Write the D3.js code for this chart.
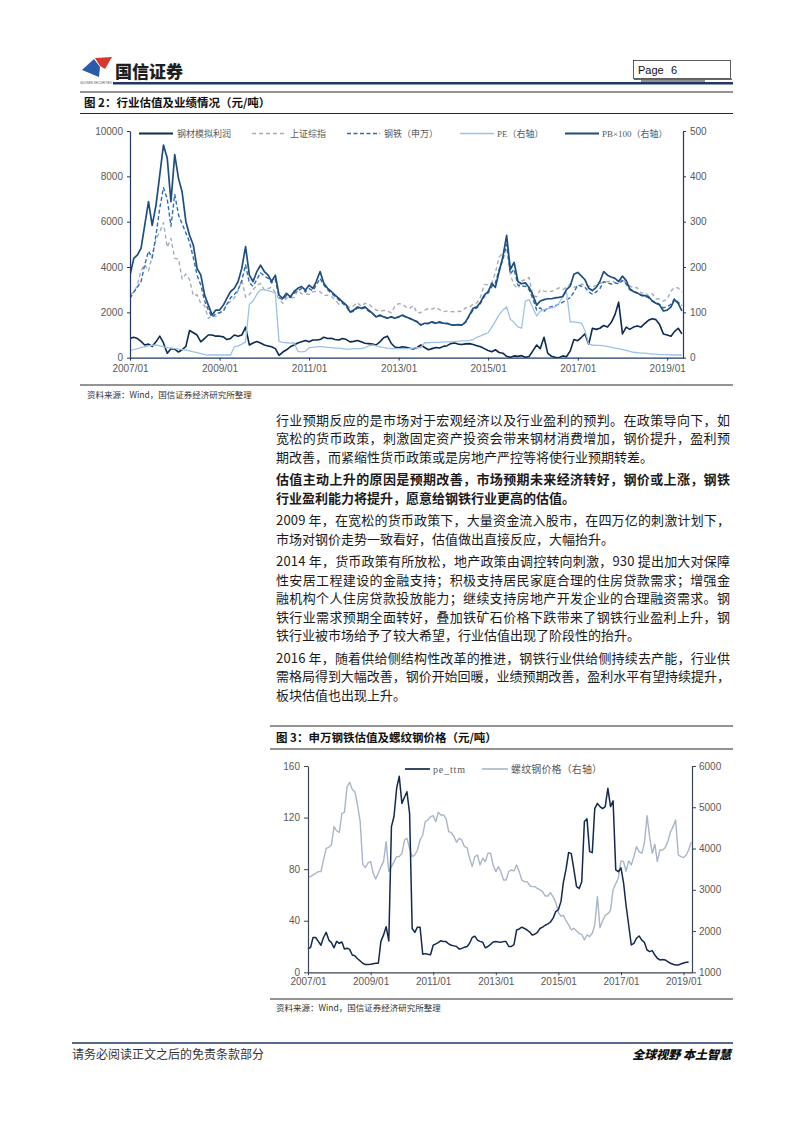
<!DOCTYPE html>
<html>
<head>
<meta charset="utf-8">
<script src="https://d3js.org/d3.v7.min.js"></script>
<style>
  body { margin: 0; background: #fff; }
  svg { display: block; }
</style>
</head>
<body>
<svg id="page" width="793" height="1122"></svg>
<script>
// ---------- Figure 2 data (monthly, from 2007/01) ----------
// 钢材模拟利润 (left axis, 元/吨)
const steelProfit = [
  850, 900, 850, 720, 560, 600, 500, 700, 950, 650, 200, 400,
  380, 250, 350, 500, 1200, 1100, 1000, 700, 850, 1000, 1000, 950,
  950, 920, 800, 850, 1000, 950, 1000, 1350, 560, 650, 710, 650,
  560, 520, 480, 400, 100, 250, 350, 480, 560, 650, 700, 760,
  700, 780, 780, 800, 900, 850, 860, 800, 780, 850, 800, 700,
  720, 760, 700, 640, 620, 600, 560, 700, 880, 950, 640, 470,
  440, 480, 460, 420, 380, 450, 560, 450, 350, 400, 450, 430,
  500, 530, 620, 650, 600, 580, 610, 620, 580, 530, 480, 400,
  320, 260, 350, 230, 200, 60, 20, 80, 60, 90, 20, 50,
  300, 560, 400, 900, 200, 60, 20, 0, 80, 40, 300, 800,
  750, 900, 1050, 600, 1300, 1250, 1300, 1420, 1350, 1550, 1900, 2450,
  1050, 1350, 1250, 1350, 1400, 1350, 1500, 1650, 1720, 1680, 1450, 1050,
  1000, 950, 1150, 1300, 1050
];
// 上证综指 (left axis)
const sseIndex = [
  2786, 2881, 3183, 3841, 4109, 3820, 4471, 5218, 5552, 5955, 4871, 5262,
  4383, 4348, 3473, 3693, 3433, 2736, 2775, 2397, 2293, 1729, 1871, 1821,
  1991, 2082, 2373, 2477, 2633, 2959, 3412, 2667, 2779, 2996, 3195, 3277,
  2989, 3051, 3110, 2870, 2592, 2398, 2638, 2639, 2656, 2979, 2820, 2808,
  2791, 2905, 2928, 2911, 2743, 2762, 2701, 2567, 2359, 2468, 2333, 2199,
  2292, 2428, 2263, 2396, 2373, 2225, 2103, 2047, 2086, 2069, 1980, 2269,
  2385, 2366, 2237, 2177, 2300, 1979, 1994, 2098, 2175, 2141, 2220, 2116,
  2033, 2056, 2033, 2026, 2039, 2048, 2202, 2217, 2364, 2420, 2683, 3235,
  3210, 3310, 3748, 4442, 4612, 5000, 3664, 3206, 3053, 3383, 3445, 3539,
  2738, 2688, 3004, 2938, 2917, 2930, 2979, 3085, 3005, 3100, 3250, 3104,
  3159, 3242, 3223, 3155, 3117, 3192, 3273, 3361, 3349, 3393, 3317, 3307,
  3481, 3259, 3169, 3082, 3095, 2847, 2876, 2725, 2821, 2603, 2588, 2494,
  2585, 2941, 3091, 3078, 2899
];
// 钢铁（申万） (left axis)
const swSteel = [
  2620, 2900, 3100, 3350, 4100, 4700, 4400, 5400, 6600, 7500, 7000, 5800,
  7200, 6300, 5900, 5500, 5100, 4400, 3650, 3200, 2500, 2100, 1780, 1950,
  1980, 2050, 2350, 2650, 2780, 3000, 3400, 4100, 3300, 3150, 3450, 3750,
  3600, 3500, 3300, 3450, 2650, 2550, 2750, 2650, 2850, 2950, 3050, 2900,
  3050, 2950, 3200, 3500, 3200, 3000, 2850, 2700, 2550, 2400, 2250, 2000,
  2050, 2200, 2150, 2200, 2050, 1950, 1800, 1850, 1800, 1750, 1800, 1750,
  1800, 1850, 1800, 1720, 1650, 1600, 1450, 1500, 1500, 1550, 1520, 1550,
  1500, 1500, 1450, 1430, 1450, 1430, 1550, 1850, 2100, 2200, 2400, 2700,
  2850, 3150, 3300, 3900, 4300, 5000, 3700, 3900, 3200, 3150, 3150, 3000,
  2600, 2100, 2200, 2050, 2200, 2250, 2300, 2350, 2450, 2550, 2650, 2900,
  3200, 3150, 3100, 2900, 2800, 2900, 3050, 3350, 3300, 3250, 3300, 3250,
  3400, 3250, 3000, 2900, 2850, 2750, 2700, 2650, 2500, 2450, 2350, 2200,
  2250, 2350, 2600, 2450, 2300
];
// PE（右轴）
const sectorPE = [
  16, 18, 20, 22, 24, 26, 27, 28, 26, 24, 22, 21,
  20, 19, 18, 17, 15, 13, 11, 9, 7, 6, 6, 6,
  6, 6, 6, 6, 24, 26, 30, 35, 118, 125, 140, 150,
  150, 148, 146, 142, 36, 34, 33, 32, 33, 14, 13, 14,
  22, 23, 24, 25, 24, 23, 22, 21, 21, 20, 19, 19,
  20, 20, 20, 22, 26, 28, 26, 24, 22, 21, 20, 20,
  20, 20, 20, 20, 21, 22, 22, 33, 33, 34, 34, 34,
  35, 35, 35, 36, 36, 37, 37, 38, 40, 45, 48, 52,
  55, 68, 80, 95, 105, 112, 85, 78, 68, 65, 125, 128,
  110, 92, 102, 106, 108, 110, 112, 120, 135, 145, 79, 79,
  78, 76, 60, 30, 28, 27, 27, 26, 25, 23, 21, 20,
  18, 16, 14, 12, 11, 10, 10, 9, 8, 8, 7, 7,
  7, 6, 6, 6, 6
];
// PB×100（右轴）
const sectorPB100 = [
  182, 219, 226, 241, 292, 344, 292, 336, 403, 469, 440, 344,
  448, 395, 366, 300, 270, 248, 197, 182, 138, 116, 94, 105,
  105, 116, 131, 146, 153, 168, 197, 245, 182, 168, 190, 204,
  190, 182, 168, 182, 138, 131, 142, 134, 146, 153, 157, 149,
  160, 153, 168, 190, 164, 153, 146, 138, 131, 123, 116, 101,
  105, 112, 109, 112, 105, 98, 90, 94, 90, 87, 90, 87,
  90, 94, 90, 87, 83, 79, 72, 76, 76, 79, 76, 79,
  76, 76, 73, 72, 73, 72, 79, 94, 109, 112, 123, 138,
  146, 164, 155, 190, 222, 270, 195, 210, 168, 163, 165, 155,
  138, 116, 125, 128, 130, 130, 132, 133, 135, 150, 158, 184,
  188, 180, 172, 153, 148, 155, 168, 190, 182, 178, 175, 168,
  180, 170, 152, 146, 143, 138, 137, 135, 125, 120, 116, 103,
  105, 112, 128, 120, 103
];
const fig2LeftTicks = [0, 2000, 4000, 6000, 8000, 10000];
const fig2RightTicks = [0, 100, 200, 300, 400, 500];
const fig2Legend = ["钢材模拟利润", "上证综指", "钢铁（申万）", "PE（右轴）", "PB×100（右轴）"];

// ---------- Figure 3 data (monthly, from 2007/01) ----------
const peTtm = [
  18, 19.5, 27, 27, 24, 21, 27, 31, 25, 23, 19, 24,
  22.5, 23.5, 18, 18.6, 17.8, 13.4, 12.8, 10.5, 8.8, 7, 6, 6,
  6.2, 6.7, 7, 7, 24, 29, 35.4, 24.3, 113, 121, 143, 152,
  131, 136, 140, 123, 34, 31, 35, 35, 14, 14.5, 14, 13.6,
  21, 22, 23, 24.5, 23.8, 23.8, 22, 21, 20.5, 20, 18, 18.5,
  19.5, 20, 22.5, 27, 28, 25, 24, 23.3, 19, 20, 21.7, 23.5,
  23.8, 23.5, 23.3, 23.8, 23.8, 20, 20, 21.5, 32.8, 33.6, 35, 34,
  32.8, 31.2, 29, 29.5, 31, 34, 35, 36.5, 37.5, 39, 42, 47,
  48.5, 55, 70, 80, 93, 92, 80, 66.4, 65, 70.3, 117, 119,
  93.6, 92.8, 127, 131, 128.5, 127, 128.5, 142.7, 128.5, 133, 79.4, 78,
  81, 69, 52, 36.7, 21.2, 22.5, 26.4, 28.2, 25, 23.3, 17.3, 16,
  16.8, 13.4, 10.9, 9.6, 10, 9.6, 8.3, 7, 6.2, 5.7, 5.7, 6.5,
  7.2, 7.8, 7.8
];
// 螺纹钢价格（右轴）
const rebarPrice = [
  3318, 3318, 3360, 3400, 3440, 3440, 3720, 4005, 4030, 4086, 4530, 4430,
  4390, 4853, 4877, 5500, 5604, 5430, 5378, 5055, 4651, 3617, 3536, 3650,
  3682, 3399, 3262, 3399, 3561, 3682, 4167, 3440, 3561, 3682, 3803, 3803,
  3884, 4207, 4247, 4005, 3803, 3843, 3965, 4207, 4328, 4651, 4692, 4772,
  4797, 4651, 4877, 4813, 4813, 4716, 4409, 4385, 4288, 4150, 4247, 4207,
  4045, 4021, 3763, 3561, 3803, 3843, 3601, 3763, 3682, 3884, 3884, 3601,
  3440, 3561, 3440, 3238, 3238, 3440, 3480, 3456, 3601, 3440, 3238, 3197,
  3197, 3100, 3076, 3076, 3036, 3000, 2950, 2850, 2850, 2930, 2830, 2700,
  2450, 2360, 2380, 2250, 2150, 2026, 2066, 2002, 1945, 1921, 1784, 1905,
  1864, 1945, 2147, 2834, 2080, 2250, 2380, 2420, 2500, 3000, 3150, 3280,
  3700, 3682, 3450, 3700, 3601, 3803, 4045, 3924, 3884, 4126, 4797, 4288,
  3884, 4102, 3682, 3965, 3965, 4021, 4167, 4393, 4530, 4692, 3843, 3803,
  3779, 3843, 3965, 4150
];
const fig3LeftTicks = [0, 40, 80, 120, 160];
const fig3RightTicks = [1000, 2000, 3000, 4000, 5000, 6000];
const fig3Legend = ["pe_ttm", "螺纹钢价格（右轴）"];

const xTickYears = [2007, 2009, 2011, 2013, 2015, 2017, 2019];

// ---------- fonts & colours ----------
const CJK = '"Noto Sans CJK SC", "Noto Sans", sans-serif';
const ARIAL = '"Liberation Sans", Arial, sans-serif';
const SERIF = '"Liberation Serif", "Noto Sans CJK SC", serif';
const NAVY = "#1f3864";
const LABEL = "#595959";
const plain = d3.format("d");

const svg = d3.select("#page");
svg.append("rect").attr("width", 793).attr("height", 1122).attr("fill", "#fff");

function hline(x1, x2, y, color, w) {
  return svg.append("line").attr("x1", x1).attr("x2", x2).attr("y1", y).attr("y2", y)
    .attr("stroke", color).attr("stroke-width", w);
}

function label(x, y, str, opt) {
  const o = Object.assign({ size: 12, weight: 400, color: "#222", family: CJK, anchor: "start" }, opt);
  const t = svg.append("text").attr("x", x).attr("y", y).text(str)
    .attr("font-family", o.family).attr("font-size", o.size).attr("font-weight", o.weight)
    .attr("fill", o.color).attr("text-anchor", o.anchor);
  if (o.italic) t.attr("font-style", "italic");
  if (o.length) t.attr("textLength", o.length).attr("lengthAdjust", "spacing");
  return t;
}

// ---------- header ----------
svg.append("polygon").attr("points", "95,58 112,57 105,69 100,66").attr("fill", "#d63a2f");
svg.append("polygon").attr("points", "82,70 94,59 100,67 99,77").attr("fill", "#2a5aa8");
label(80, 84, "GUOSEN SECURITIES", { size: 3, family: ARIAL, color: "#555" });
label(115, 78, "国信证券", { size: 17, weight: 900, color: "#1e1e1e" });
svg.append("rect").attr("x", 633.5).attr("y", 60.5).attr("width", 97).attr("height", 18)
  .attr("fill", "none").attr("stroke", "#333").attr("stroke-width", 0.8);
hline(634, 732, 79.3, "#666", 1.4);
label(638, 73.5, "Page", { size: 11, family: ARIAL, color: "#111" });
label(671, 73.5, "6", { size: 11, family: ARIAL, color: "#111" });
hline(641, 705, 81, "#222", 1);
hline(113, 733, 83.3, NAVY, 2.4);

// ---------- figure 2 ----------
hline(80, 733, 92, "#111", 0.9);
label(84, 107, "图 2：行业估值及业绩情况（元/吨）", { size: 11.5, weight: 700, color: "#111" });
hline(80, 733, 113.5, "#111", 0.9);

const months2 = d3.range(steelProfit.length).map(i => new Date(2007, i, 1));
const x2 = d3.scaleTime().domain([new Date(2007, 0, 1), new Date(2019, 4, 10)]).range([130, 683]);
const yL2 = d3.scaleLinear().domain([0, 10000]).range([357.7, 131]);
const yR2 = d3.scaleLinear().domain([0, 500]).range([357.7, 131]);

svg.append("clipPath").attr("id", "clip2").append("rect")
  .attr("x", 130).attr("y", 125).attr("width", 553).attr("height", 233);

const plot2 = svg.append("g").attr("clip-path", "url(#clip2)");
const fig2Series = [
  { values: steelProfit, y: yL2, color: "#0d2a52", width: 1.6, dash: null },
  { values: sseIndex, y: yL2, color: "#a3aebd", width: 1.4, dash: "4,3" },
  { values: swSteel, y: yL2, color: "#2f6db3", width: 1.4, dash: "4,2.5" },
  { values: sectorPE, y: yR2, color: "#9cc2e6", width: 1.3, dash: null },
  { values: sectorPB100, y: yR2, color: "#1f4e7d", width: 1.7, dash: null }
];
fig2Series.forEach(s => {
  const line = d3.line().x((d, i) => x2(months2[i])).y(d => s.y(d));
  plot2.append("path").datum(s.values).attr("d", line)
    .attr("fill", "none").attr("stroke", s.color).attr("stroke-width", s.width)
    .attr("stroke-linejoin", "round").attr("stroke-dasharray", s.dash);
});

function styleAxis(g, color, size, family) {
  g.select(".domain").attr("stroke", color).attr("stroke-width", 1.2);
  g.selectAll(".tick line").attr("stroke", color).attr("stroke-width", 1);
  g.selectAll(".tick text").attr("fill", LABEL).attr("font-size", size).attr("font-family", family || ARIAL);
}

styleAxis(svg.append("g").attr("transform", "translate(130,0)")
  .call(d3.axisLeft(yL2).tickValues(fig2LeftTicks).tickFormat(plain).tickSize(3).tickSizeOuter(0).tickPadding(4)), NAVY, 10);
styleAxis(svg.append("g").attr("transform", "translate(683,0)")
  .call(d3.axisRight(yR2).tickValues(fig2RightTicks).tickFormat(plain).tickSize(3).tickSizeOuter(0).tickPadding(4)), NAVY, 10);
styleAxis(svg.append("g").attr("transform", "translate(0,357.7)")
  .call(d3.axisBottom(x2).tickValues(xTickYears.map(y => new Date(y, 0, 1))).tickFormat(d3.timeFormat("%Y/%m"))
    .tickSize(3).tickSizeOuter(0).tickPadding(4)), NAVY, 10);

// legend (figure 2)
const fig2LegendPos = [
  { x1: 139, x2: 173, tx: 177 },
  { x1: 252, x2: 286, tx: 290 },
  { x1: 347, x2: 380, tx: 384 },
  { x1: 460, x2: 494, tx: 497 },
  { x1: 565, x2: 599, tx: 602 }
];
fig2Legend.forEach((name, i) => {
  const p = fig2LegendPos[i], s = fig2Series[i];
  hline(p.x1, p.x2, 133.5, s.color, s.width + 0.2).attr("stroke-dasharray", s.dash);
  label(p.tx, 137, name, { size: 9, family: SERIF, color: LABEL });
});

hline(80, 733, 385, "#111", 0.9);
label(87, 398, "资料来源：Wind，国信证券经济研究所整理", { size: 8.5, color: "#333" });

// ---------- body text ----------
const paragraphs = [
  { bold: false, lines: [
    "行业预期反应的是市场对于宏观经济以及行业盈利的预判。在政策导向下，如",
    "宽松的货币政策，刺激固定资产投资会带来钢材消费增加，钢价提升，盈利预",
    "期改善，而紧缩性货币政策或是房地产严控等将使行业预期转差。"] },
  { bold: true, lines: [
    "估值主动上升的原因是预期改善，市场预期未来经济转好，钢价或上涨，钢铁",
    "行业盈利能力将提升，愿意给钢铁行业更高的估值。"] },
  { bold: false, lines: [
    "2009 年，在宽松的货币政策下，大量资金流入股市，在四万亿的刺激计划下，",
    "市场对钢价走势一致看好，估值做出直接反应，大幅抬升。"] },
  { bold: false, lines: [
    "2014 年，货币政策有所放松，地产政策由调控转向刺激，930 提出加大对保障",
    "性安居工程建设的金融支持；积极支持居民家庭合理的住房贷款需求；增强金",
    "融机构个人住房贷款投放能力；继续支持房地产开发企业的合理融资需求。钢",
    "铁行业需求预期全面转好，叠加铁矿石价格下跌带来了钢铁行业盈利上升，钢",
    "铁行业被市场给予了较大希望，行业估值出现了阶段性的抬升。"] },
  { bold: false, lines: [
    "2016 年，随着供给侧结构性改革的推进，钢铁行业供给侧持续去产能，行业供",
    "需格局得到大幅改善，钢价开始回暖，业绩预期改善，盈利水平有望持续提升，",
    "板块估值也出现上升。"] }
];
let by = 424.7;
paragraphs.forEach((p, pi) => {
  if (pi > 0) by += 22.5 - 18.5;
  p.lines.forEach((ln, li) => {
    const full = li < p.lines.length - 1;
    label(276, by, ln, { size: 13, weight: p.bold ? 700 : 400, color: "#1a1a1a", length: full ? 454 : null });
    by += 18.5;
  });
});

// ---------- figure 3 ----------
hline(270, 733, 726, "#111", 0.9);
label(276, 742, "图 3：申万钢铁估值及螺纹钢价格（元/吨）", { size: 11.5, weight: 700, color: "#111" });
hline(270, 733, 749, "#111", 0.9);

const months3 = d3.range(rebarPrice.length).map(i => new Date(2007, i, 1));
const x3 = d3.scaleTime().domain([new Date(2007, 0, 1), new Date(2019, 3, 10)]).range([308, 692]);
const yL3 = d3.scaleLinear().domain([0, 160]).range([972.3, 766]);
const yR3 = d3.scaleLinear().domain([1000, 6000]).range([972.3, 766]);

const fig3Series = [
  { values: peTtm, y: yL3, color: "#14294d", width: 1.5 },
  { values: rebarPrice, y: yR3, color: "#a8b6c8", width: 1.4 }
];
// rebar drawn first so pe_ttm stays on top
[fig3Series[1], fig3Series[0]].forEach(s => {
  const line = d3.line().x((d, i) => x3(months3[i])).y(d => s.y(d));
  svg.append("path").datum(s.values).attr("d", line)
    .attr("fill", "none").attr("stroke", s.color).attr("stroke-width", s.width)
    .attr("stroke-linejoin", "round");
});

const AX3 = "#3a4556";
styleAxis(svg.append("g").attr("transform", "translate(308,0)")
  .call(d3.axisLeft(yL3).tickValues(fig3LeftTicks).tickFormat(plain).tickSize(4).tickSizeOuter(0).tickPadding(4)), AX3, 10);
styleAxis(svg.append("g").attr("transform", "translate(692,0)")
  .call(d3.axisRight(yR3).tickValues(fig3RightTicks).tickFormat(plain).tickSize(4).tickSizeOuter(0).tickPadding(3)), AX3, 10);
styleAxis(svg.append("g").attr("transform", "translate(0,972.3)")
  .call(d3.axisBottom(x3).tickValues(xTickYears.map(y => new Date(y, 0, 1))).tickFormat(d3.timeFormat("%Y/%m"))
    .tickSize(3).tickSizeOuter(0).tickPadding(3)), AX3, 10);

const fig3LegendPos = [
  { x1: 405, x2: 430, tx: 433, len: 32 },
  { x1: 482, x2: 508, tx: 511, len: 91 }
];
fig3Legend.forEach((name, i) => {
  const p = fig3LegendPos[i], s = fig3Series[i];
  hline(p.x1, p.x2, 769, s.color, s.width + 0.2);
  label(p.tx, 773, name, { size: 10, family: SERIF, color: LABEL, length: p.len });
});

hline(270, 733, 999, "#111", 0.9);
label(276, 1011, "资料来源：Wind，国信证券经济研究所整理", { size: 8.5, color: "#333" });

// ---------- footer ----------
hline(72, 733, 1043, NAVY, 1.6);
label(72, 1059, "请务必阅读正文之后的免责条款部分", { size: 12, color: "#333" });
label(731, 1059, "全球视野  本土智慧", { size: 12, weight: 900, italic: true, color: "#111", anchor: "end" });
</script>
</body>
</html>
